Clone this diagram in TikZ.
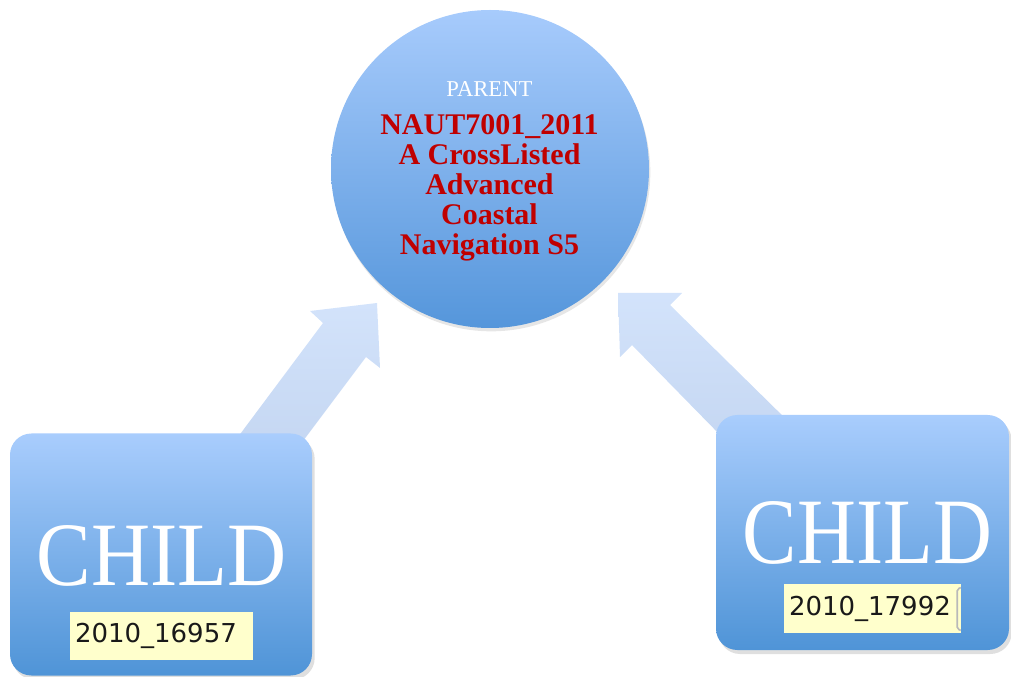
\documentclass[tikz,border=0pt]{standalone}
\usepackage{fontspec}
\usepackage{graphicx}
\setmainfont{Liberation Serif}
\newfontfamily\labelfont{DejaVu Sans}
\usetikzlibrary{shadows,calc}
\definecolor{boxtop}{HTML}{A9CDFD}
\definecolor{boxbot}{HTML}{4F94D7}
\definecolor{circtop}{HTML}{A7CBFC}
\definecolor{circbot}{HTML}{5596DB}
\definecolor{arrtop}{HTML}{D3E3FB}
\definecolor{arrbot}{HTML}{C5D7F2}
\definecolor{redtext}{HTML}{C00000}
\definecolor{labelfill}{HTML}{FFFFCC}
\tikzset{
  childbox/.style={rectangle, rounded corners=16pt, top color=boxtop, bottom color=boxbot,
    draw=none, inner sep=0pt,
    drop shadow={opacity=0.25, shadow xshift=2pt, shadow yshift=-3pt}},
  blockarrow/.style={top color=arrtop, bottom color=arrbot, draw=none},
  childtext/.style={text=white, inner sep=0pt, anchor=south},
  idlabel/.style={fill=labelfill, inner ysep=0pt, inner xsep=3.75pt, align=left,
    font=\labelfont\fontsize{19.5}{21}\selectfont, text=black!90}
}
\begin{document}
\begin{tikzpicture}[x=0.75pt,y=-0.75pt]
\useasboundingbox (0,0) rectangle (1011,677);
% block arrows (behind everything)
\shade[blockarrow] (232,445) -- (323,323) -- (310,311) -- (377,303) -- (380,368) -- (366,357) -- (300,445) -- cycle;
\shade[blockarrow] (725,440) -- (632,345) -- (620,357) -- (618,293) -- (682,293) -- (670,305) -- (792,425) -- cycle;
% parent circle
\node[circle, minimum size=238.5pt, inner sep=0pt, top color=circtop, bottom color=circbot,
  drop shadow={opacity=0.2, shadow xshift=1pt, shadow yshift=-2.5pt}] (parent) at (490,169) {};
\node[text=white, anchor=base, inner sep=0pt, font=\fontsize{17}{20}\selectfont] (ptitle) at (489.5,97) {PARENT};
\node[text=redtext, anchor=north, inner sep=0pt, align=center,
  font=\bfseries\fontsize{22.5}{22.5}\selectfont] (pname) at (489.5,114.6)
  {NAUT7001\_2011\\A CrossListed\\Advanced\\Coastal\\Navigation S5};
% children
\node[childbox, minimum width=226.5pt, minimum height=181.5pt] (childL) at (161,554.5) {};
\node[childbox, minimum width=219.75pt, minimum height=176.25pt] (childR) at (862.5,532.5) {};
\node[childtext] (childLt) at (162,587) {\resizebox{187.5pt}{45pt}{CHILD}};
\node[childtext] (childRt) at (867.5,565) {\resizebox{186.75pt}{46.5pt}{CHILD}};
\node[idlabel, text width=129.75pt, minimum height=36pt] (idL) at (161.5,636) {2010\_16957};
\node[idlabel, text width=125.25pt, minimum height=36.75pt] (idR) at (872.5,608.5) {2010\_17992};
\draw[gray!55, line width=1.2pt, rounded corners=1.5pt] ($(idR.north east)+(-0.5,4)$) -- ($(idR.north east)+(-4,5)$) -- ($(idR.south east)+(-4,-4)$) -- ($(idR.south east)+(-0.5,-3)$);
\end{tikzpicture}
\end{document}
